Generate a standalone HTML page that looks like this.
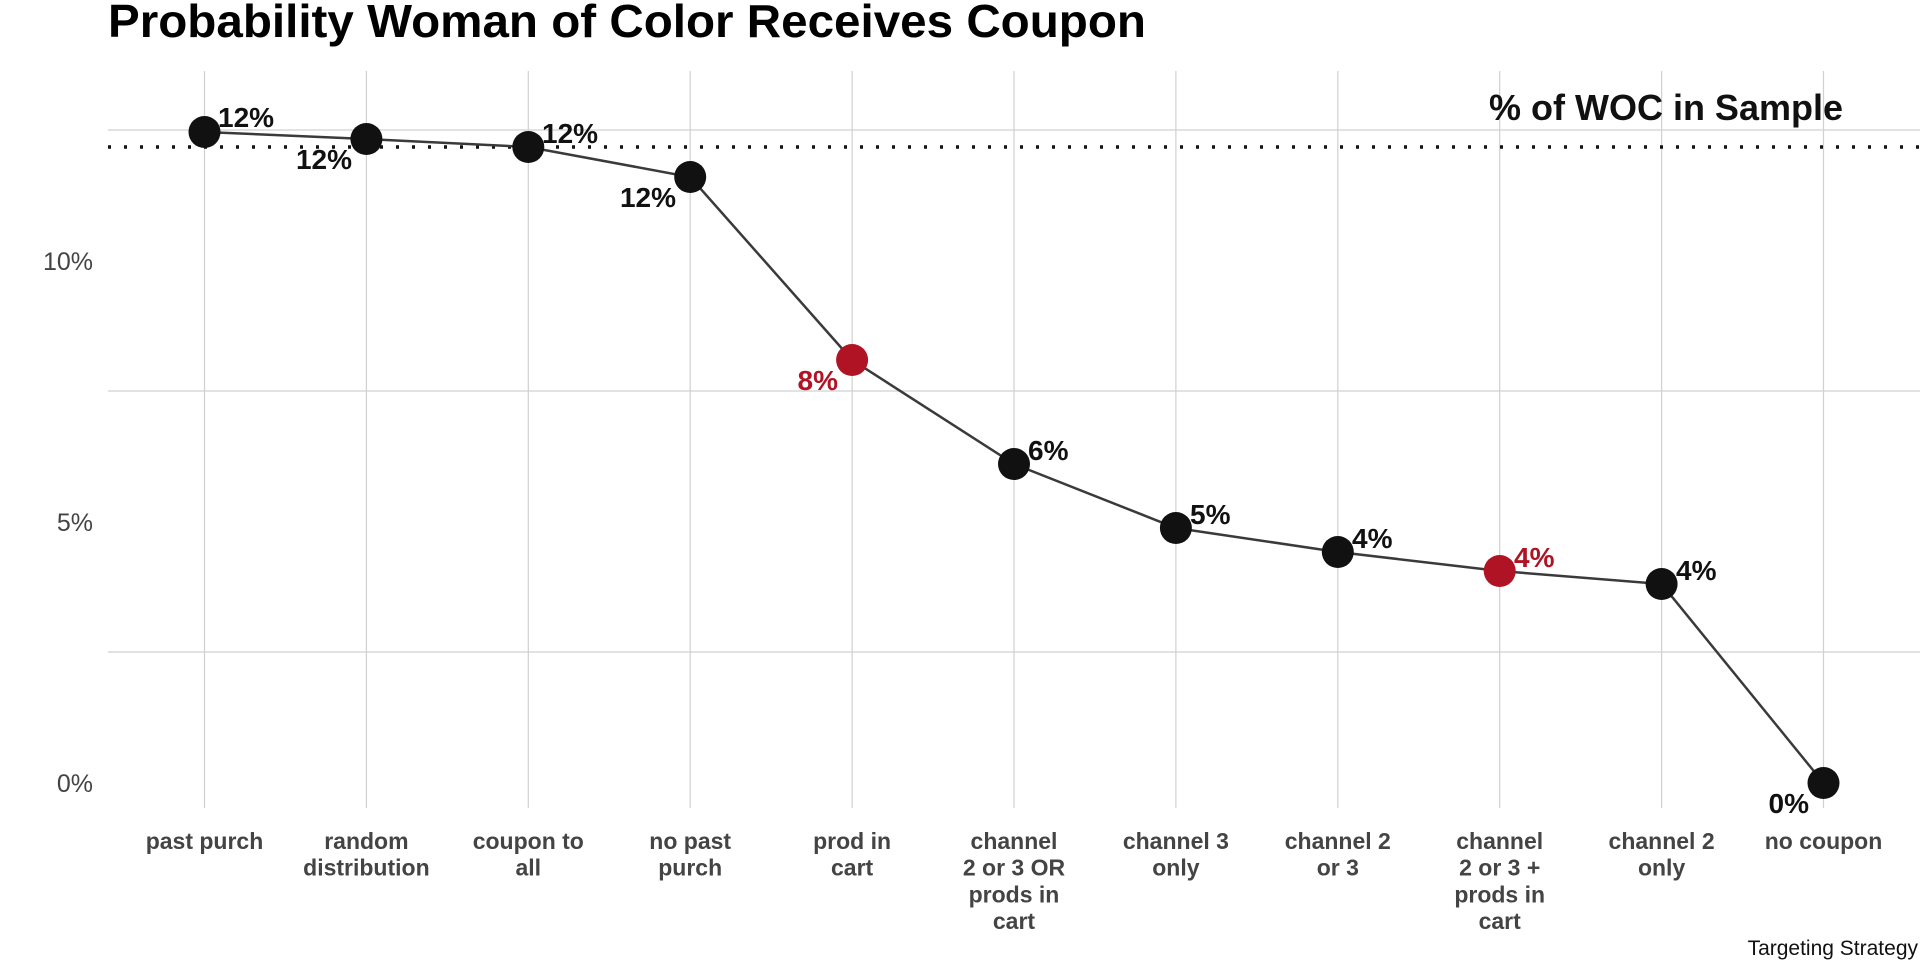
<!DOCTYPE html>
<html><head><meta charset="utf-8"><style>body{margin:0;background:#fff}svg{display:block}text{font-family:"Liberation Sans",sans-serif}</style></head>
<body>
<svg width="1920" height="960" viewBox="0 0 1920 960" xmlns="http://www.w3.org/2000/svg">
<text x="108" y="37" font-size="46" font-weight="bold" fill="#000" textLength="1038" lengthAdjust="spacingAndGlyphs">Probability Woman of Color Receives Coupon</text>
<g stroke="#d0d0d0" stroke-width="1.2">
<line x1="108" x2="1920" y1="130" y2="130"/><line x1="108" x2="1920" y1="391" y2="391"/><line x1="108" x2="1920" y1="652" y2="652"/>
<line x1="204.5" x2="204.5" y1="71" y2="808"/><line x1="366.4" x2="366.4" y1="71" y2="808"/><line x1="528.3" x2="528.3" y1="71" y2="808"/><line x1="690.2" x2="690.2" y1="71" y2="808"/><line x1="852.1" x2="852.1" y1="71" y2="808"/><line x1="1014" x2="1014" y1="71" y2="808"/><line x1="1175.9" x2="1175.9" y1="71" y2="808"/><line x1="1337.8" x2="1337.8" y1="71" y2="808"/><line x1="1499.7" x2="1499.7" y1="71" y2="808"/><line x1="1661.6" x2="1661.6" y1="71" y2="808"/><line x1="1823.5" x2="1823.5" y1="71" y2="808"/>
</g>
<g font-size="25" fill="#444" text-anchor="end"><text x="93" y="270">10%</text><text x="93" y="531">5%</text><text x="93" y="792">0%</text></g>
<line x1="108" x2="1920" y1="147" y2="147" stroke="#111" stroke-width="3.5" stroke-dasharray="3,13"/>
<text x="1843" y="120" font-size="36" font-weight="bold" text-anchor="end" fill="#111">% of WOC in Sample</text>
<polyline fill="none" stroke="#3a3a3a" stroke-width="2.5" points="204.5,132 366.4,139 528.3,147 690.2,177 852.1,360 1014,464 1175.9,528 1337.8,552 1499.7,571 1661.6,584 1823.5,783"/>
<g fill="#111">
<circle cx="204.5" cy="132" r="16"/><circle cx="366.4" cy="139" r="16"/><circle cx="528.3" cy="147" r="16"/><circle cx="690.2" cy="177" r="16"/><circle cx="1014" cy="464" r="16"/><circle cx="1175.9" cy="528" r="16"/><circle cx="1337.8" cy="552" r="16"/><circle cx="1661.6" cy="584" r="16"/><circle cx="1823.5" cy="783" r="16"/>
</g>
<g fill="#b01424"><circle cx="852.1" cy="360" r="16"/><circle cx="1499.7" cy="571" r="16"/></g>
<g font-size="28" font-weight="bold" fill="#111">
<text x="218" y="127">12%</text>
<text x="352" y="169" text-anchor="end">12%</text>
<text x="542" y="143">12%</text>
<text x="676" y="207" text-anchor="end">12%</text>
<text x="838" y="390" text-anchor="end" fill="#b01424">8%</text>
<text x="1028" y="460">6%</text>
<text x="1190" y="524">5%</text>
<text x="1352" y="548">4%</text>
<text x="1514" y="567" fill="#b01424">4%</text>
<text x="1676" y="580">4%</text>
<text x="1809" y="813" text-anchor="end">0%</text>
</g>
<g font-size="23" font-weight="bold" fill="#444" text-anchor="middle">
<text x="204.5" y="849">past purch</text>
<text x="366.4" y="849">random</text><text x="366.4" y="875.7">distribution</text>
<text x="528.3" y="849">coupon to</text><text x="528.3" y="875.7">all</text>
<text x="690.2" y="849">no past</text><text x="690.2" y="875.7">purch</text>
<text x="852.1" y="849">prod in</text><text x="852.1" y="875.7">cart</text>
<text x="1014" y="849">channel</text><text x="1014" y="875.7">2 or 3 OR</text><text x="1014" y="902.4">prods in</text><text x="1014" y="929">cart</text>
<text x="1175.9" y="849">channel 3</text><text x="1175.9" y="875.7">only</text>
<text x="1337.8" y="849">channel 2</text><text x="1337.8" y="875.7">or 3</text>
<text x="1499.7" y="849">channel</text><text x="1499.7" y="875.7">2 or 3 +</text><text x="1499.7" y="902.4">prods in</text><text x="1499.7" y="929">cart</text>
<text x="1661.6" y="849">channel 2</text><text x="1661.6" y="875.7">only</text>
<text x="1823.5" y="849">no coupon</text>
</g>
<text x="1918" y="955" font-size="21" text-anchor="end" fill="#111">Targeting Strategy</text>
</svg>
</body></html>
